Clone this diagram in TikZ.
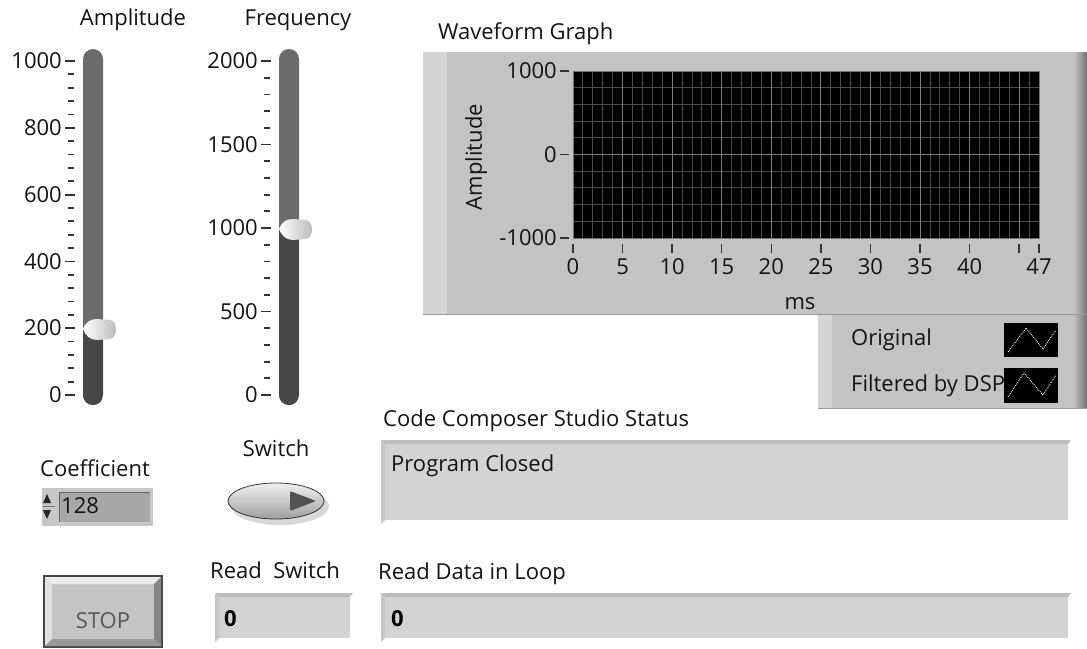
\documentclass[tikz,border=0pt]{standalone}
\usepackage{fontspec}
\setmainfont{Open Sans}
\usepackage{xcolor}
\definecolor{panelgray}{HTML}{C3C3C3}
\definecolor{panellight}{HTML}{D5D5D5}
\definecolor{trackhi}{HTML}{6B6B6B}
\definecolor{tracklo}{HTML}{474747}
\definecolor{indgray}{HTML}{D3D3D3}
\definecolor{indedge}{HTML}{BDBDBD}
\definecolor{gridminor}{HTML}{4A4A4A}
\definecolor{gridmajor}{HTML}{7E7E7E}
\definecolor{inktext}{HTML}{141414}
\newcommand{\lvfont}{\fontsize{22}{25}\selectfont}

\begin{document}
\begin{tikzpicture}[
  x=1pt, y=-1pt,
  lbl/.style={font=\lvfont, text=inktext, inner sep=0pt, text height=15.5pt, text depth=0pt},
  val/.style={lbl, font=\lvfont\bfseries, text=black},
  tickmark/.style={line width=1.8pt, black!80},
  knob/.style={left color=white, right color=black!28},
  minorgrid/.style={gridminor, line width=0.9pt},
  majorgrid/.style={gridmajor, line width=0.9pt}
]
\useasboundingbox[fill=white] (0,0) rectangle (1087,648);

\node[lbl] (amplabel) at (133,18) {Amplitude};
\node[lbl] (freqlabel) at (298,18) {Frequency};

\fill[trackhi, rounded corners=10] (83,49) rectangle (103,405);
\begin{scope}
  \clip[rounded corners=10] (83,49) rectangle (103,405);
  \fill[tracklo] (83,328) rectangle (103,405);
\end{scope}
\foreach \v in {0,40,...,1000}
  \draw[tickmark] (68,{61+0.334*(1000-\v)}) -- (74,{61+0.334*(1000-\v)});
\foreach \v in {0,200,...,1000} {
  \draw[tickmark] (65,{61+0.334*(1000-\v)}) -- (75,{61+0.334*(1000-\v)});
  \node[lbl, anchor=east] (amp\v) at (62,{61+0.334*(1000-\v)}) {\v};
}
\shade[knob] (83,329) .. controls (86,322) and (90,319) .. (97,319) -- (110,320)
  .. controls (118,321) and (118,338) .. (110,339) -- (97,340)
  .. controls (90,340) and (86,336) .. (83,329) -- cycle;

\fill[trackhi, rounded corners=10] (279,49) rectangle (299,405);
\begin{scope}
  \clip[rounded corners=10] (279,49) rectangle (299,405);
  \fill[tracklo] (279,228) rectangle (299,405);
\end{scope}
\foreach \v in {0,100,...,2000}
  \draw[tickmark] (264,{61+0.167*(2000-\v)}) -- (270,{61+0.167*(2000-\v)});
\foreach \v in {0,500,...,2000} {
  \draw[tickmark] (261,{61+0.167*(2000-\v)}) -- (271,{61+0.167*(2000-\v)});
  \node[lbl, anchor=east] (freq\v) at (258,{61+0.167*(2000-\v)}) {\v};
}
\shade[knob] (279,229) .. controls (282,222) and (286,219) .. (293,219) -- (306,220)
  .. controls (314,221) and (314,238) .. (306,239) -- (293,240)
  .. controls (286,240) and (282,236) .. (279,229) -- cycle;

\node[lbl, anchor=west] (graphlabel) at (438,32) {Waveform Graph};
\fill[panelgray] (423,52) rectangle (1085,314);
\fill[panellight] (423,52) rectangle (447,314);
\shade[left color=panelgray, right color=black!55] (1074,52) rectangle (1087,314);
\draw[black!40] (423,314) -- (1087,314);
\fill[black] (573,71) rectangle (1039,238);
\foreach \t in {1,...,46}
  \draw[minorgrid] ({573+9.915*\t},71) -- ({573+9.915*\t},238);
\foreach \v in {-800,-600,...,800}
  \draw[minorgrid] (573,{154.5-0.0835*\v}) -- (1039,{154.5-0.0835*\v});
\foreach \t in {5,10,...,45}
  \draw[majorgrid] ({573+9.915*\t},71) -- ({573+9.915*\t},238);
\draw[majorgrid] (573,154.5) -- (1039,154.5);
\draw[black!55] (573,71) rectangle (1039,238);
\foreach \v/\n in {1000/ytop,0/ymid,-1000/ybot} {
  \draw[tickmark] (560,{154.5-0.0835*\v}) -- (569,{154.5-0.0835*\v});
  \node[lbl, anchor=east] (\n) at (557,{154.5-0.0835*\v}) {\v};
}
\foreach \t in {0,5,...,45,47}
  \draw[tickmark, line width=1.4pt] ({573+9.915*\t},244) -- ({573+9.915*\t},253);
\foreach \t in {0,5,...,40,47}
  \node[lbl] (x\t) at ({573+9.915*\t},267) {\t};
\node[lbl, rotate=90] (yaxis) at (474,157) {Amplitude};
\node[lbl] (xaxis) at (800,302) {ms};

\fill[panelgray] (818,315) rectangle (1085,408);
\fill[panellight] (818,315) rectangle (832,408);
\shade[left color=panelgray, right color=black!55] (1073,315) rectangle (1087,408);
\draw[black!40] (818,408) -- (1087,408);
\node[lbl, anchor=west] (legorig) at (851,338) {Original};
\node[lbl, anchor=west] (legdsp) at (851,384) {Filtered by DSP};
\fill[black] (1004,323) rectangle (1058,357);
\fill[black] (1004,368) rectangle (1058,403);
\draw[white, densely dotted, line width=0.9pt] (1008,352) -- (1026,328) -- (1043,349) -- (1056,330);
\draw[white, densely dotted, line width=0.9pt] (1008,397) -- (1024,373) -- (1043,395) -- (1056,375);

\node[lbl, anchor=west] (statuslabel) at (383,419) {Code Composer Studio Status};
\node[lbl] (coeflabel) at (95,469) {Coefficient};
\node[lbl] (switchlabel) at (276,449) {Switch};
\node[lbl, anchor=west] (readswlabel) at (210,571) {Read\ \ Switch};
\node[lbl, anchor=west] (readdatalabel) at (378,572) {Read Data in Loop};

\foreach \xa/\ya/\xb/\yb in {381/440/1068/520, 381/593/1068/638, 215/593/350/638} {
  \fill[indgray] (\xa,\ya) rectangle (\xb,\yb);
  \fill[indedge] (\xa,\ya) -- (\xb+3,\ya) -- (\xb,\ya+4) -- (\xa+4,\ya+4) -- cycle;
  \fill[indedge!60!indgray] (\xa,\ya) -- (\xa+4,\ya+4) -- (\xa+4,\yb) -- (\xa,\yb+4) -- cycle;
}
\node[lbl, anchor=west] (statusval) at (391,464) {Program Closed};
\node[val, anchor=west] (readdataval) at (391,619) {0};
\node[val, anchor=west] (readswval) at (224,619) {0};

\fill[black!22] (42,488) rectangle (153,526);
\fill[black!34] (59,492) rectangle (150,522);
\draw[black!60] (59,522) -- (59,492) -- (150,492);
\draw[white!80!black] (150,492) -- (150,522) -- (59,522);
\draw[black!55] (43,506) -- (55,506);
\fill[black!85] (43,503) -- (51,503) -- (47,494) -- cycle;
\fill[black!85] (43,510) -- (51,510) -- (47,519) -- cycle;
\node[lbl, anchor=west] (coefval) at (61,506) {128};

\fill[black!25, opacity=0.6] (280,506) ellipse [x radius=49, y radius=19];
\shade[top color=black!6, bottom color=black!38, draw=black!80, line width=0.8pt] (276,501) ellipse [x radius=48, y radius=18];
\fill[black!68, rounded corners=2] (290,491) -- (316,501) -- (290,511) -- cycle;

\fill[black!72] (43,575) rectangle (163,648);
\fill[black!23] (45,577) rectangle (161,646);
\fill[black!8] (45,577) -- (161,577) -- (154,584) -- (52,584) -- cycle;
\fill[black!12] (45,577) -- (52,584) -- (52,639) -- (45,646) -- cycle;
\fill[black!48] (161,577) -- (161,646) -- (154,639) -- (154,584) -- cycle;
\fill[black!40] (45,646) -- (52,639) -- (154,639) -- (161,646) -- cycle;
\node[lbl, text=black!65] (stopbtn) at (103,621) {STOP};
\end{tikzpicture}
\end{document}
